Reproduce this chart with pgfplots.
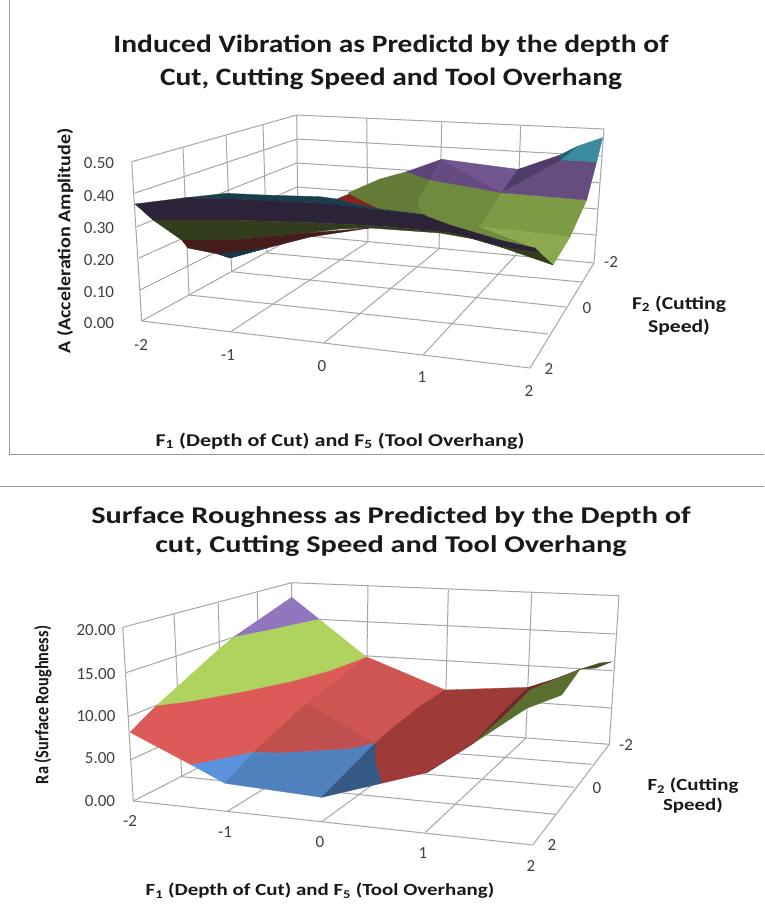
\documentclass[border=0pt]{standalone}
\usepackage{pgfplots}
\pgfplotsset{compat=1.18}
\usepackage{fontspec}
\setmainfont{Carlito}
\definecolor{gl}{HTML}{A6A6A6}
\definecolor{tk}{HTML}{404040}
\newcommand{\Dc}[1]{\definecolor{c#1}{HTML}{#1}}
\Dc{842520}\Dc{647C38}\Dc{6F8C3E}\Dc{7D9A44}\Dc{8BA94E}\Dc{5C4478}\Dc{664B80}\Dc{71568F}\Dc{4F3C68}\Dc{654D80}\Dc{25606F}\Dc{3A8BA0}
\Dc{193F4C}\Dc{2C2338}\Dc{333D1E}\Dc{451C1A}\Dc{16384A}
\Dc{9175BD}\Dc{AED35F}\Dc{DC5A58}\Dc{CF5552}\Dc{C0504D}\Dc{9E3B38}\Dc{6D2A28}\Dc{5A6E2F}\Dc{3F5020}\Dc{5B92DC}\Dc{4F81BD}\Dc{365A85}
\newcommand{\Pg}[2]{\addplot[fill=c#1,draw=c#1,line width=0.3pt] coordinates {#2} --cycle;}
\newcommand{\Gl}[2]{\addplot[gl,line width=1pt] coordinates {#1 #2};}
\newcommand{\Tk}[3]{\node[text=tk,font=\fontsize{17}{18}\selectfont] at (axis cs:#1,#2) {#3};}
\newcommand{\Hd}[4]{\node[font=\fontsize{#4}{#4}\selectfont\bfseries,text=black!90] at (axis cs:#1,#2) {#3};}
\newcommand{\Ws}[2]{\scalebox{#1}[1]{#2}}
\begin{document}
\begin{tikzpicture}
\begin{axis}[scale only axis,width=764pt,height=921pt,xmin=0,xmax=764,ymin=0,ymax=921,y dir=reverse,hide axis,clip=true]
\addplot[draw=none,fill=white] coordinates {(0,0)(764,0)(764,921)(0,921)} --cycle;
% frames
\addplot[gray!80,line width=1pt] coordinates {(9,0)(9,454)(764,454)};
\addplot[gray!80,line width=1pt] coordinates {(0,486)(764,486)};
% ---------- panel 1 walls
\Gl{(131.7,161.7)}{(296.7,115)}\Gl{(135,193)}{(297,139)}\Gl{(136.7,226.7)}{(297,163)}\Gl{(139,258)}{(297,187)}\Gl{(140,290)}{(298,211)}\Gl{(141.7,321)}{(298,235)}
\Gl{(131.7,161.7)}{(141.7,321)}\Gl{(183,148)}{(189,295)}\Gl{(226,136)}{(231.7,271.7)}\Gl{(263,125)}{(267,253)}\Gl{(296.7,115)}{(298,235)}
\Gl{(296.7,115)}{(604,129)}\Gl{(297,139)}{(601.7,156)}\Gl{(297,163)}{(599,182.7)}\Gl{(297,187)}{(597.7,209)}\Gl{(298,211)}{(595.7,235)}\Gl{(298,235)}{(594,263)}
\Gl{(366.7,118)}{(368,242)}\Gl{(441.7,122.7)}{(439,249)}\Gl{(520.7,126)}{(516,255)}\Gl{(604,129)}{(594,263)}
\Gl{(141.7,321)}{(530,368)}\Gl{(189,295)}{(548,334)}\Gl{(231.7,271.7)}{(566,307)}\Gl{(267,253)}{(582,282)}
\Gl{(530,368)}{(594,263)}\Gl{(230.7,331.7)}{(368,242)}\Gl{(324,343)}{(439,249)}\Gl{(423,355)}{(516,255)}
% panel 1 surface: back bands
\Pg{842520}{(336.7,199)(351.7,193)(363,201)(380,209)(350,203)}
\Pg{647C38}{(348,193)(380,179)(406.7,171.7)(430,180)(418,201.7)(423,215)(380,209)(363,201)}
\Pg{6F8C3E}{(418,201.7)(430,180)(501.7,192.7)(480,226.7)(535,248)(500,240)(450,225)(423,215)}
\Pg{7D9A44}{(501.7,192.7)(586.7,200)(570,237)(480,226.7)}
\Pg{8BA94E}{(480,226.7)(570,237)(553,265)(535,248)}
\Pg{5C4478}{(406.7,171.7)(441.7,159.3)(430,180)}
\Pg{664B80}{(441.7,159.3)(501.7,192.7)(430,180)}
\Pg{71568F}{(441.7,159.3)(518,169.3)(501.7,192.7)}
\Pg{4F3C68}{(518,169.3)(560,155)(561.7,160)(501.7,192.7)}
\Pg{654D80}{(501.7,192.7)(561.7,160)(596.7,161.7)(586.7,200)}
\Pg{25606F}{(560,155)(578,146)(575,160)(561.7,160)}
\Pg{3A8BA0}{(578,146)(602.7,137.7)(596.7,161.7)(561.7,160)}
% panel 1 surface: underside bands
\Pg{193F4C}{(183,198)(226.7,193.3)(263,195)(320,196.7)(336.7,199)(350,203)(380,209)(426.7,215)(423,215)(380,210)(320,203)(233,199)}
\Pg{2C2338}{(135,204)(183,198)(233,199)(320,203)(380,210)(423,215)(450,225)(500,240)(535,248)(540,253)(500,246.7)(453,233)(440,231.7)(380,226)(313,222.7)(233,220)(153,220)}
\Pg{333D1E}{(153,220)(233,220)(313,222.7)(380,226)(440,231.7)(453,233)(500,246.7)(540,253)(553,265)(480,240)(440,233)(370,228)(340,229)(307,233)(233,240)(181.7,240)}
\Pg{451C1A}{(181.7,240)(233,240)(307,233)(370,228)(310,237)(267,248)(230,258)(218,254)(188,248)}
\Pg{16384A}{(218,254)(233,252)(267,248)(230,258)}
% panel 1 text
\Hd{391}{46}{\Ws{1.18}{Induced Vibration as Predictd by the depth of}}{25}
\Hd{391}{79}{\Ws{1.18}{Cut, Cutting Speed and Tool Overhang}}{25}
\Tk{99}{163}{0.50}\Tk{99}{196}{0.40}\Tk{99}{228}{0.30}\Tk{99}{260}{0.20}\Tk{99}{292}{0.10}\Tk{99}{323}{0.00}
\Tk{141}{345}{-2}\Tk{228}{355}{-1}\Tk{322}{366}{0}\Tk{422}{377}{1}\Tk{529}{391}{2}
\Tk{549}{369}{2}\Tk{587}{308}{0}\Tk{611}{262}{-2}
\Hd{340}{441}{\Ws{1.23}{F\textsubscript{1} (Depth of Cut) and F\textsubscript{5} (Tool Overhang)}}{18}
\Hd{679}{304}{\Ws{1.2}{F\textsubscript{2} (Cutting}}{18}
\Hd{679}{327}{\Ws{1.2}{Speed)}}{18}
\node[rotate=90,font=\fontsize{18}{18}\selectfont\bfseries,text=black!90] at (axis cs:65,241) {\scalebox{1.115}[1]{A (Acceleration Amplitude)}};
% ---------- panel 2 walls
\Gl{(122.7,627.3)}{(291.7,582.7)}\Gl{(126,672.7)}{(291.7,618)}\Gl{(128,716.7)}{(291.7,651.4)}\Gl{(130,760)}{(292,685.7)}\Gl{(133.3,801)}{(292,720)}
\Gl{(122.7,627.3)}{(133.3,801)}\Gl{(174,614)}{(181.7,776.7)}\Gl{(218.3,603.3)}{(222,756)}\Gl{(257.3,592.7)}{(259,738)}\Gl{(291.7,582.7)}{(292,720)}
\Gl{(291.7,582.7)}{(619,595.7)}\Gl{(291.7,618)}{(615,634)}\Gl{(291.7,651.4)}{(612.7,670.7)}\Gl{(292,685.7)}{(611.7,708)}\Gl{(292,720)}{(609.3,744.3)}
\Gl{(368,585)}{(366,726)}\Gl{(448.3,590)}{(445,732)}\Gl{(531.7,593.3)}{(525.7,738.3)}\Gl{(619,595.7)}{(609.3,744.3)}
\Gl{(133.3,801)}{(532.7,845)}\Gl{(181.7,776.7)}{(555,814.3)}\Gl{(222,756)}{(574,787.3)}\Gl{(259,738)}{(591.7,764.3)}
\Gl{(532.7,845)}{(609.3,744.3)}\Gl{(226.7,811.7)}{(366,726)}\Gl{(321.7,821.7)}{(445,732)}\Gl{(425,832.7)}{(525.7,738.3)}
% panel 2 surface
\Pg{9175BD}{(291.7,597.3)(319.3,619.3)(266.7,630.7)(233.3,637.3)}
\Pg{AED35F}{(233.3,637.3)(266.7,630.7)(319.3,619.3)(366.7,657.3)(330,671)(291.7,681.7)(241.7,692.3)(190,701.7)(156,706)(220,648.3)}
\Pg{DC5A58}{(130,732.3)(156,706)(190,701.7)(241.7,692.3)(291.7,681.7)(330,671)(366.7,657.3)(306.7,703.3)(253.3,752.3)(191.7,765)}
\Pg{CF5552}{(366.7,657.3)(370,658.3)(445,690)(421.7,705)(390,730)(375,743.3)(306.7,703.3)}
\Pg{C0504D}{(306.7,703.3)(375,743.3)(350,749)(280,753)(253.3,752.3)}
\Pg{9E3B38}{(445,690)(528.3,687.3)(501.7,713)(473.3,743.3)(426.7,772.7)(381.7,783.3)(375,762)(375,743.3)(390,730)(421.7,705)}
\Pg{6D2A28}{(528.3,687.3)(556.7,678.3)(580,669.3)(530,690)(501.7,718.3)(473.3,743.3)(426.7,772.7)(473.3,743.3)(501.7,713)}
\Pg{5A6E2F}{(580,669.3)(561.7,695)(526.7,708.3)(473.3,743.3)(501.7,718.3)(530,690)}
\Pg{3F5020}{(580,669.3)(600,663)(611.7,661.7)(596,668)}
\Pg{5B92DC}{(191.7,765)(253.3,752.3)(225,783.3)}
\Pg{4F81BD}{(253.3,752.3)(280,753)(350,749)(375,743.3)(321.7,797.3)(225,783.3)}
\Pg{365A85}{(375,743.3)(375,762)(381.7,783.3)(321.7,797.3)}
% panel 2 text
\Hd{391}{517}{\Ws{1.263}{Surface Roughness as Predicted by the Depth of}}{24}
\Hd{391}{546}{\Ws{1.263}{cut, Cutting Speed and Tool Overhang}}{24}
\Tk{96}{630}{20.00}\Tk{96}{674}{15.00}\Tk{96}{716}{10.00}\Tk{100}{758}{5.00}\Tk{100}{801}{0.00}
\Tk{130}{821}{-2}\Tk{225}{832}{-1}\Tk{320}{842}{0}\Tk{423}{853}{1}\Tk{531}{866}{2}
\Tk{552}{845}{2}\Tk{597}{788}{0}\Tk{626}{745}{-2}
\Hd{320}{891}{\Ws{1.23}{F\textsubscript{1} (Depth of Cut) and F\textsubscript{5} (Tool Overhang)}}{17}
\Hd{693}{786}{\Ws{1.23}{F\textsubscript{2} (Cutting}}{17}
\Hd{693}{806}{\Ws{1.23}{Speed)}}{17}
\node[rotate=90,font=\fontsize{19}{19}\selectfont\bfseries,text=black!90] at (axis cs:43,705) {\scalebox{0.86}[1]{Ra (Surface Roughness)}};
\end{axis}
\end{tikzpicture}
\end{document}
